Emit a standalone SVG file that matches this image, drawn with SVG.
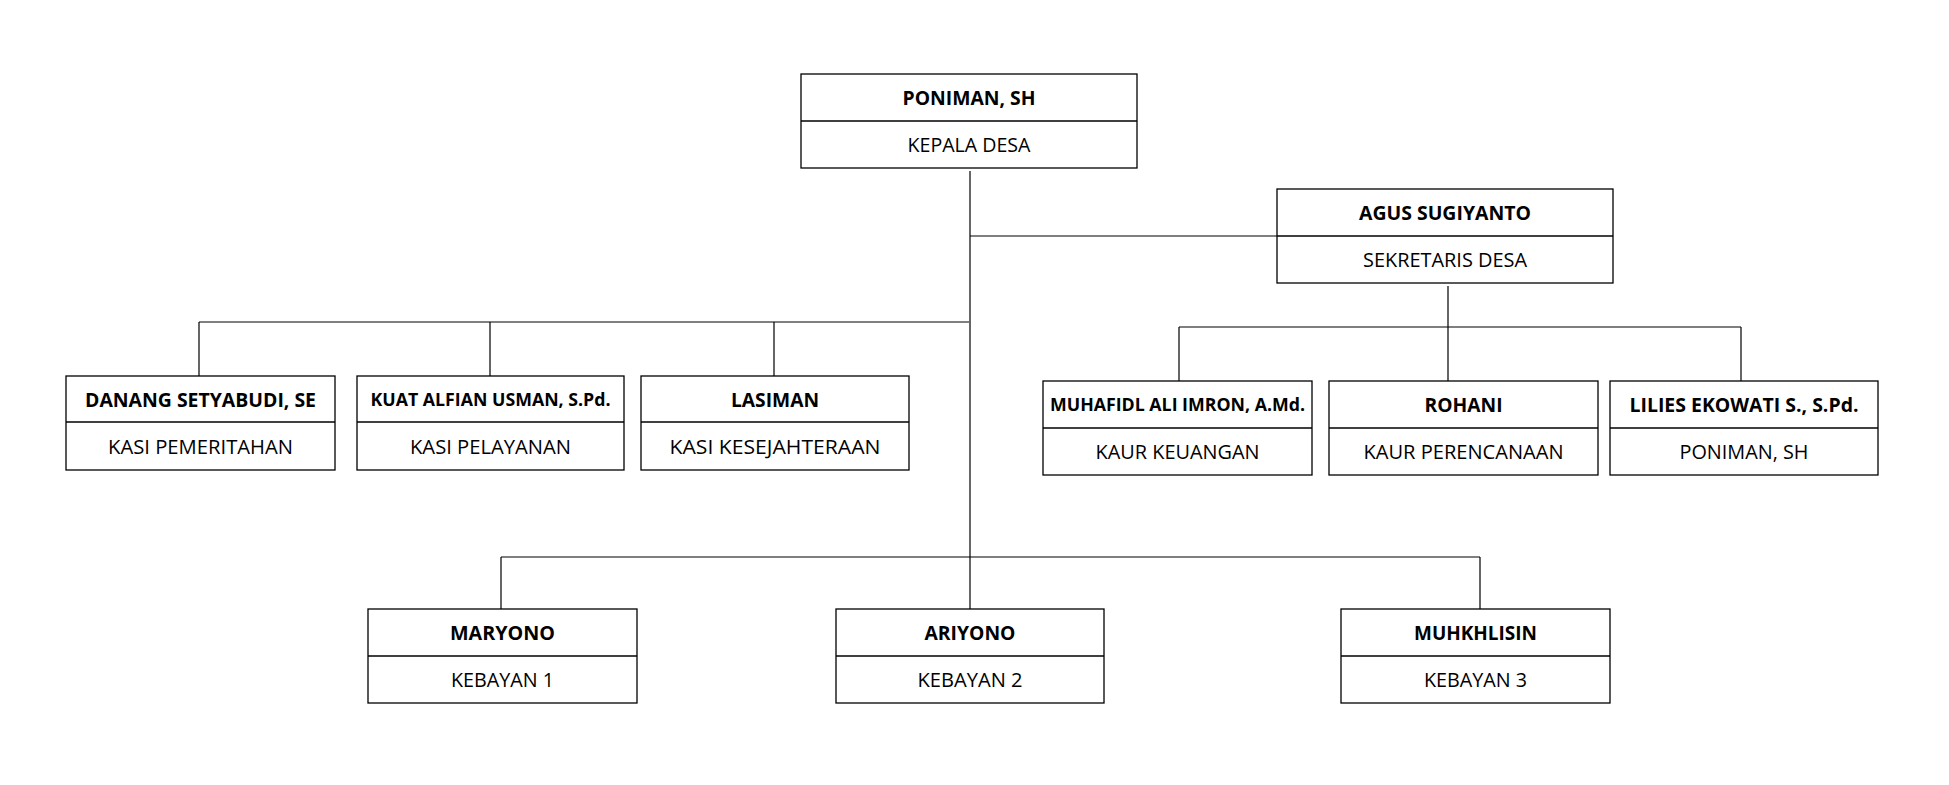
<svg xmlns="http://www.w3.org/2000/svg" width="1949" height="785" viewBox="0 0 1949 785">
<style>
.box{fill:#fff;stroke:#000;stroke-width:1.3}
.div{stroke:#000;stroke-width:1.3}
.con{stroke:#000;stroke-width:1.2;fill:none}
.n{font-family:"Open Sans","Noto Sans",sans-serif;font-weight:bold;font-size:20px;fill:#000;text-anchor:middle}
.s{font-size:18px}
.t{font-family:"Open Sans","Noto Sans",sans-serif;font-size:20px;fill:#000;text-anchor:middle}
</style>
<rect width="1949" height="785" fill="#fff"/>
<g id="connectors">
<path class="con" d="M970 171V609"/>
<path class="con" d="M970 236H1277"/>
<path class="con" d="M199 322H969M199 322V376M490 322V376M774 322V376"/>
<path class="con" d="M1448 286V381M1179 327H1741M1179 327V381M1741 327V381"/>
<path class="con" d="M501 557H1480M501 557V609M1480 557V609"/>
</g>
<g id="kepala">
<rect class="box" x="801" y="74" width="336" height="94"/><path class="div" d="M801 121H1137"/>
<text class="n" x="969" y="104.5" textLength="133" lengthAdjust="spacingAndGlyphs">PONIMAN, SH</text>
<text class="t" x="969" y="151.5" textLength="123" lengthAdjust="spacingAndGlyphs">KEPALA DESA</text>
</g>
<g id="sekretaris">
<rect class="box" x="1277" y="189" width="336" height="94"/><path class="div" d="M1277 236H1613"/>
<text class="n" x="1445" y="219.5" textLength="172" lengthAdjust="spacingAndGlyphs">AGUS SUGIYANTO</text>
<text class="t" x="1445" y="266.5" textLength="164" lengthAdjust="spacingAndGlyphs">SEKRETARIS DESA</text>
</g>
<g id="danang">
<rect class="box" x="66" y="376" width="269" height="94"/><path class="div" d="M66 422H335"/>
<text class="n" x="200.5" y="406.5" textLength="231" lengthAdjust="spacingAndGlyphs">DANANG SETYABUDI, SE</text>
<text class="t" x="200.5" y="453.5" textLength="185" lengthAdjust="spacingAndGlyphs">KASI PEMERITAHAN</text>
</g>
<g id="kuat">
<rect class="box" x="357" y="376" width="267" height="94"/><path class="div" d="M357 422H624"/>
<text class="n s" x="490.5" y="405.5" textLength="240" lengthAdjust="spacingAndGlyphs">KUAT ALFIAN USMAN, S.Pd.</text>
<text class="t" x="490.5" y="453.5" textLength="161" lengthAdjust="spacingAndGlyphs">KASI PELAYANAN</text>
</g>
<g id="lasiman">
<rect class="box" x="641" y="376" width="268" height="94"/><path class="div" d="M641 422H909"/>
<text class="n" x="775" y="406.5" textLength="88" lengthAdjust="spacingAndGlyphs">LASIMAN</text>
<text class="t" x="775" y="453.5" textLength="211" lengthAdjust="spacingAndGlyphs">KASI KESEJAHTERAAN</text>
</g>
<g id="muhafidl">
<rect class="box" x="1043" y="381" width="269" height="94"/><path class="div" d="M1043 428H1312"/>
<text class="n s" x="1177.5" y="410.5" textLength="255" lengthAdjust="spacingAndGlyphs">MUHAFIDL ALI IMRON, A.Md.</text>
<text class="t" x="1177.5" y="458.5" textLength="164" lengthAdjust="spacingAndGlyphs">KAUR KEUANGAN</text>
</g>
<g id="rohani">
<rect class="box" x="1329" y="381" width="269" height="94"/><path class="div" d="M1329 428H1598"/>
<text class="n" x="1463.5" y="411.5" textLength="78" lengthAdjust="spacingAndGlyphs">ROHANI</text>
<text class="t" x="1463.5" y="458.5" textLength="200" lengthAdjust="spacingAndGlyphs">KAUR PERENCANAAN</text>
</g>
<g id="lilies">
<rect class="box" x="1610" y="381" width="268" height="94"/><path class="div" d="M1610 428H1878"/>
<text class="n" x="1744" y="411.5" textLength="229" lengthAdjust="spacingAndGlyphs">LILIES EKOWATI S., S.Pd.</text>
<text class="t" x="1744" y="458.5" textLength="129" lengthAdjust="spacingAndGlyphs">PONIMAN, SH</text>
</g>
<g id="maryono">
<rect class="box" x="368" y="609" width="269" height="94"/><path class="div" d="M368 656H637"/>
<text class="n" x="502.5" y="640" textLength="105" lengthAdjust="spacingAndGlyphs">MARYONO</text>
<text class="t" x="502.5" y="687" textLength="103" lengthAdjust="spacingAndGlyphs">KEBAYAN 1</text>
</g>
<g id="ariyono">
<rect class="box" x="836" y="609" width="268" height="94"/><path class="div" d="M836 656H1104"/>
<text class="n" x="970" y="640" textLength="91" lengthAdjust="spacingAndGlyphs">ARIYONO</text>
<text class="t" x="970" y="687" textLength="105" lengthAdjust="spacingAndGlyphs">KEBAYAN 2</text>
</g>
<g id="mukhlisin">
<rect class="box" x="1341" y="609" width="269" height="94"/><path class="div" d="M1341 656H1610"/>
<text class="n" x="1475.5" y="640" textLength="123" lengthAdjust="spacingAndGlyphs">MUHKHLISIN</text>
<text class="t" x="1475.5" y="687" textLength="103" lengthAdjust="spacingAndGlyphs">KEBAYAN 3</text>
</g>
</svg>
